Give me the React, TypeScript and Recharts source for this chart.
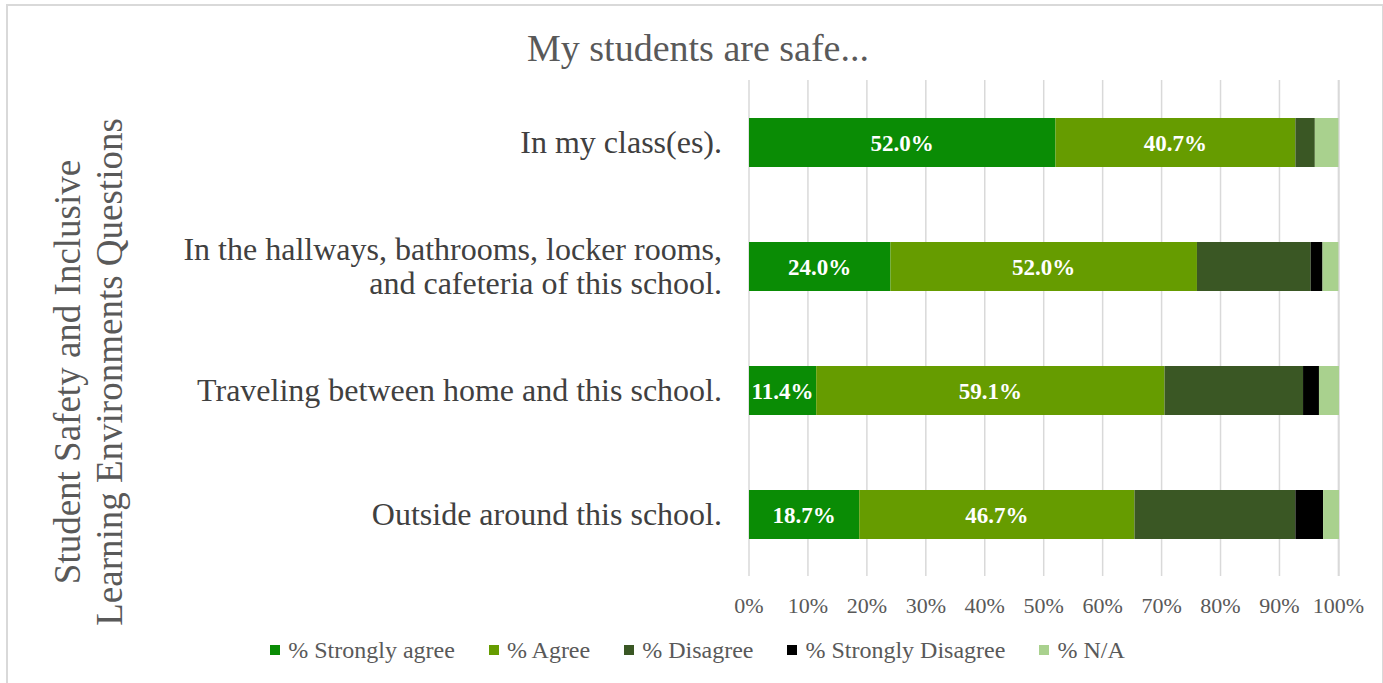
import React from "react";
import { BarChart, Bar, XAxis, YAxis, CartesianGrid, LabelList, Legend } from "recharts";

const categories = [
  "In my class(es).",
  "In the hallways, bathrooms, locker rooms, and cafeteria of this school.",
  "Traveling between home and this school.",
  "Outside around this school.",
];
const categoryLines: string[][] = [
  ["In my class(es)."],
  ["In the hallways, bathrooms, locker rooms,", "and cafeteria of this school."],
  ["Traveling between home and this school."],
  ["Outside around this school."],
];
const stronglyAgree = [52.0, 24.0, 11.4, 18.7];
const agree = [40.7, 52.0, 59.1, 46.7];
const disagree = [3.3, 19.3, 23.5, 27.3];
const stronglyDisagree = [0, 2.0, 2.7, 4.7];
const notApplicable = [4.0, 2.7, 3.4, 2.7];
const xTicks = [0, 10, 20, 30, 40, 50, 60, 70, 80, 90, 100];

const seriesNames = ["% Strongly agree", "% Agree", "% Disagree", "% Strongly Disagree", "% N/A"];
const seriesKeys = ["sa", "a", "d", "sd", "na"];
const seriesColors = ["#0a8c05", "#669c00", "#3a5724", "#000000", "#a9d18e"];

const data = categories.map((name, i) => ({
  name,
  sa: stronglyAgree[i],
  a: agree[i],
  d: disagree[i],
  sd: stronglyDisagree[i],
  na: notApplicable[i],
}));

const FONT = '"Liberation Serif", "Times New Roman", serif';

const CategoryTick = (props: any) => {
  const { x, y, payload } = props;
  const idx = categories.indexOf(payload.value);
  const lines = idx >= 0 ? categoryLines[idx] : [payload.value];
  const lh = 34;
  const start = -((lines.length - 1) * lh) / 2;
  return (
    <g>
      {lines.map((l, k) => (
        <text
          key={k}
          x={x}
          y={y + start + k * lh}
          dy="0.35em"
          textAnchor="end"
          style={{ fontFamily: FONT, fontSize: 32 }}
          fill="#404040"
        >
          {l}
        </text>
      ))}
    </g>
  );
};

const PercentTick = (props: any) => {
  const { x, y, payload } = props;
  return (
    <text
      x={x}
      y={y}
      dy="0.35em"
      textAnchor="middle"
      style={{ fontFamily: FONT, fontSize: 22 }}
      fill="#595959"
    >
      {`${payload.value}%`}
    </text>
  );
};

const YTitle = () => (
  <g>
    <text
      transform="translate(80,372) rotate(-90)"
      textAnchor="middle"
      style={{ fontFamily: FONT, fontSize: 37 }}
      fill="#595959"
    >
      Student Safety and Inclusive
    </text>
    <text
      transform="translate(122,372) rotate(-90)"
      textAnchor="middle"
      style={{ fontFamily: FONT, fontSize: 37 }}
      fill="#595959"
    >
      Learning Environments Questions
    </text>
  </g>
);

const LegendContent = () => (
  <div
    style={{
      display: "flex",
      justifyContent: "center",
      gap: 34,
      fontFamily: FONT,
      fontSize: 24,
      color: "#595959",
      width: 1383,
      paddingLeft: 12,
      boxSizing: "border-box",
      lineHeight: "26px",
    }}
  >
    {seriesNames.map((n, i) => (
      <div key={n} style={{ display: "flex", alignItems: "center" }}>
        <span
          style={{
            display: "inline-block",
            width: 10,
            height: 10,
            background: seriesColors[i],
            marginRight: 8,
          }}
        />
        <span>{n}</span>
      </div>
    ))}
  </div>
);

const fmt = (v: any) => (typeof v === "number" ? `${v.toFixed(1)}%` : v);

export default function App() {
  return (
    <div
      style={{
        position: "absolute",
        left: 0,
        top: 0,
        width: 1383,
        height: 683,
        overflow: "hidden",
        background: "#ffffff",
      }}
    >
      <div
        style={{
          position: "absolute",
          left: 6,
          top: 4,
          width: 1374,
          height: 700,
          border: "2px solid #d9d9d9",
        }}
      />
      <div
        style={{
          position: "absolute",
          left: 0,
          top: 25,
          width: 1396,
          textAlign: "center",
          fontFamily: FONT,
          fontSize: 38,
          lineHeight: "46px",
          color: "#595959",
        }}
      >
        My students are safe...
      </div>
      <div style={{ position: "absolute", left: 0, top: 0 }}>
        <BarChart
          width={1383}
          height={683}
          data={data}
          layout="vertical"
          margin={{ top: 80, right: 44, bottom: 77, left: 0 }}
        >
          <CartesianGrid horizontal={false} stroke="#d9d9d9" strokeWidth={1.5} />
          <XAxis
            type="number"
            domain={[0, 100]}
            ticks={xTicks}
            axisLine={false}
            tickLine={false}
            tickSize={0}
            tickMargin={29}
            height={30}
            interval={0}
            tick={<PercentTick />}
          />
          <YAxis
            type="category"
            dataKey="name"
            width={749}
            axisLine={false}
            tickLine={false}
            tickSize={0}
            tickMargin={27}
            tick={<CategoryTick />}
            label={{ content: <YTitle /> }}
          />
          <Legend
            layout="horizontal"
            verticalAlign="middle"
            align="center"
            content={<LegendContent />}
            wrapperStyle={{ position: "absolute", top: 637, left: 0, width: 1383 }}
          />
          {seriesKeys.map((k, i) => (
            <Bar
              key={k}
              dataKey={k}
              name={seriesNames[i]}
              stackId="s"
              fill={seriesColors[i]}
              barSize={49}
              isAnimationActive={false}
            >
              {i < 2 && (
                <LabelList
                  dataKey={k}
                  position="center"
                  formatter={fmt}
                  fill="#ffffff"
                  style={{ fontFamily: FONT, fontSize: 23, fontWeight: "bold" }}
                />
              )}
            </Bar>
          ))}
        </BarChart>
      </div>
    </div>
  );
}
